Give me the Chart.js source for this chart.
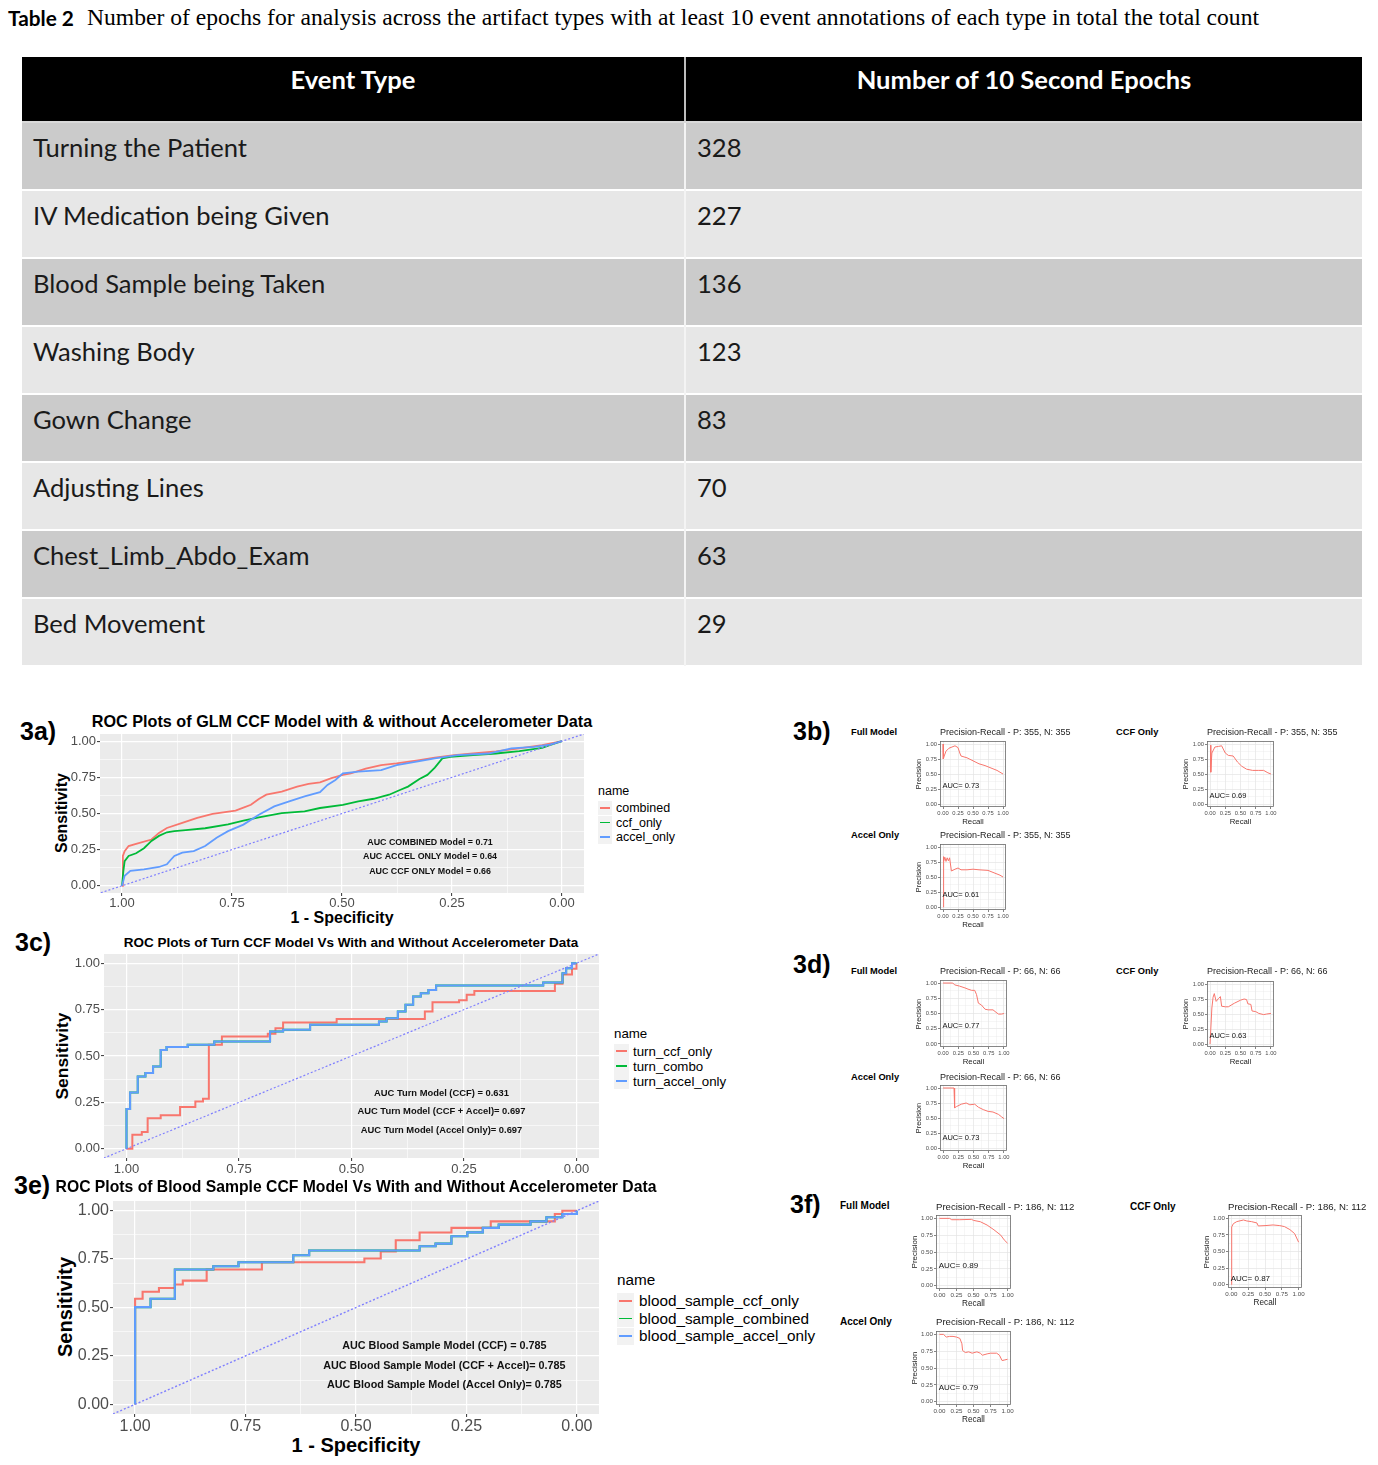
<!DOCTYPE html>
<html>
<head>
<meta charset="utf-8">
<title>Table 2 and ROC / Precision-Recall plots</title>
<script src="https://cdn.jsdelivr.net/npm/chart.js@4.4.1/dist/chart.umd.min.js"></script>
<style>
  html, body { margin: 0; padding: 0; background: #fff; }
  body { position: relative; width: 1378px; height: 1465px; overflow: hidden; font-family: 'Liberation Sans', Arial, sans-serif; color: #000; }
  .t { position: absolute; white-space: nowrap; line-height: 1; }
  .cell { position: absolute; box-sizing: border-box; }
  canvas { position: absolute; }
</style>
</head>
<body>
<script>
// ---- table 2 ----
const tableHeader = ['Event Type', 'Number of 10 Second Epochs'];
const eventTypes = ['Turning the Patient', 'IV Medication being Given', 'Blood Sample being Taken', 'Washing Body',
                    'Gown Change', 'Adjusting Lines', 'Chest_Limb_Abdo_Exam', 'Bed Movement'];
const epochCounts = [328, 227, 136, 123, 83, 70, 63, 29];

// ---- ticks used by every ggplot panel ----
const tickValues = [0, 0.25, 0.5, 0.75, 1];
const minorValues = [0.125, 0.375, 0.625, 0.875];

// ---- 3a : [specificity, sensitivity] ----
const roc3aNames = ['combined', 'ccf_only', 'accel_only'];
const roc3aCombined = [[1,0],[0.998,0.206],[0.994,0.24],[0.985,0.275],[0.968,0.29],[0.933,0.32],[0.916,0.366],[0.898,0.4],
  [0.863,0.435],[0.829,0.47],[0.794,0.497],[0.742,0.52],[0.724,0.54],[0.707,0.56],[0.689,0.6],[0.672,0.63],[0.637,0.652],
  [0.602,0.686],[0.576,0.705],[0.55,0.716],[0.524,0.744],[0.498,0.767],[0.48,0.778],[0.446,0.81],[0.411,0.835],[0.376,0.847],
  [0.324,0.87],[0.289,0.886],[0.245,0.904],[0.202,0.915],[0.15,0.93],[0.097,0.95],[0.045,0.973],[0,1]];
const roc3aCcf = [[1,0],[0.997,0.1],[0.994,0.17],[0.985,0.206],[0.968,0.225],[0.95,0.26],[0.933,0.31],[0.916,0.345],[0.898,0.37],
  [0.881,0.378],[0.855,0.385],[0.811,0.398],[0.759,0.425],[0.724,0.45],[0.689,0.474],[0.637,0.503],[0.585,0.515],[0.55,0.538],
  [0.498,0.56],[0.463,0.584],[0.428,0.602],[0.393,0.63],[0.367,0.664],[0.35,0.686],[0.324,0.739],[0.306,0.767],[0.289,0.817],
  [0.272,0.881],[0.254,0.892],[0.202,0.904],[0.15,0.915],[0.097,0.931],[0.045,0.954],[0.028,0.973],[0,1]];
const roc3aAccel = [[1,0],[0.994,0.069],[0.981,0.103],[0.95,0.114],[0.916,0.13],[0.898,0.149],[0.889,0.18],[0.881,0.206],
  [0.863,0.229],[0.837,0.24],[0.811,0.275],[0.785,0.332],[0.759,0.378],[0.724,0.423],[0.689,0.492],[0.654,0.549],[0.62,0.584],
  [0.585,0.618],[0.55,0.648],[0.533,0.698],[0.515,0.732],[0.498,0.778],[0.463,0.789],[0.411,0.8],[0.376,0.835],[0.324,0.863],
  [0.289,0.881],[0.237,0.904],[0.167,0.915],[0.115,0.95],[0.063,0.961],[0.028,0.977],[0,1]];
const roc3aAuc = ['AUC COMBINED Model = 0.71', 'AUC ACCEL ONLY Model = 0.64', 'AUC CCF ONLY Model = 0.66'];

// ---- 3c (step curves) ----
const roc3cNames = ['turn_ccf_only', 'turn_combo', 'turn_accel_only'];
const roc3cCcf = [[1,0],[0.987,0],[0.966,0.075],[0.953,0.09],[0.924,0.165],[0.881,0.18],[0.847,0.225],[0.83,0.255],[0.817,0.27],
  [0.788,0.56],[0.686,0.605],[0.669,0.62],[0.652,0.65],[0.533,0.68],[0.337,0.7],[0.32,0.74],[0.261,0.79],[0.244,0.8],[0.227,0.83],
  [0.048,0.85],[0.031,0.89],[0.01,0.94],[0,0.97],[0,1]];
const roc3cAccel = [[1,0],[0.992,0.214],[0.975,0.303],[0.958,0.39],[0.941,0.408],[0.924,0.443],[0.911,0.533],[0.864,0.548],
  [0.805,0.56],[0.681,0.578],[0.652,0.632],[0.592,0.641],[0.439,0.668],[0.422,0.686],[0.397,0.704],[0.38,0.74],[0.363,0.776],
  [0.346,0.821],[0.329,0.838],[0.312,0.856],[0.074,0.88],[0.031,0.896],[0.023,0.946],[0.01,0.973],[0,1]];
const roc3cCombo = roc3cAccel;   // hidden under the accel_only curve
const roc3cAuc = ['AUC Turn Model (CCF) = 0.631', 'AUC Turn Model (CCF + Accel)= 0.697', 'AUC Turn Model (Accel Only)= 0.697'];

// ---- 3e (step curves) ----
const roc3eNames = ['blood_sample_ccf_only', 'blood_sample_combined', 'blood_sample_accel_only'];
const roc3eCcf = [[1,0],[0.983,0.545],[0.946,0.581],[0.91,0.601],[0.892,0.619],[0.838,0.639],[0.713,0.696],[0.481,0.734],
  [0.444,0.753],[0.41,0.79],[0.356,0.847],[0.284,0.887],[0.195,0.911],[0.05,0.945],[0.033,0.983],[0,1]];
const roc3eAccel = [[1,0],[0.965,0.502],[0.91,0.545],[0.823,0.696],[0.766,0.713],[0.642,0.734],[0.606,0.77],[0.356,0.794],
  [0.32,0.816],[0.284,0.83],[0.248,0.868],[0.213,0.888],[0.177,0.911],[0.105,0.928],[0.069,0.945],[0.033,0.966],[0,0.983],[0,1]];
const roc3eCombined = roc3eAccel; // hidden under the accel_only curve
const roc3eAuc = ['AUC Blood Sample Model (CCF) = 0.785', 'AUC Blood Sample Model (CCF + Accel)= 0.785', 'AUC Blood Sample Model (Accel Only)= 0.785'];

// ---- precision-recall curves : [recall, precision] ----
const pr3bFull = [[0,1],[0.005,0.75],[0.02,0.8],[0.05,0.88],[0.1,0.93],[0.15,0.95],[0.2,0.97],[0.25,0.94],[0.28,0.85],[0.3,0.8],
  [0.4,0.77],[0.5,0.72],[0.6,0.67],[0.7,0.64],[0.8,0.6],[0.9,0.56],[1,0.5]];
const pr3bCcf = [[0.01,0.98],[0.012,0.53],[0.03,0.85],[0.08,0.95],[0.14,0.96],[0.19,0.97],[0.25,0.85],[0.3,0.81],[0.38,0.8],
  [0.45,0.7],[0.52,0.63],[0.6,0.58],[0.7,0.56],[0.8,0.56],[0.88,0.56],[0.95,0.52],[1,0.5]];
const pr3bAccel = [[0,0],[0.005,0.84],[0.015,0.76],[0.03,0.83],[0.05,0.76],[0.07,0.82],[0.09,0.77],[0.11,0.82],[0.14,0.6],
  [0.2,0.63],[0.25,0.65],[0.3,0.62],[0.4,0.62],[0.5,0.63],[0.6,0.62],[0.75,0.61],[0.85,0.57],[0.95,0.53],[1,0.5]];
const pr3dFull = [[0,1],[0.16,1],[0.19,0.97],[0.27,0.95],[0.36,0.92],[0.41,0.9],[0.47,0.88],[0.52,0.88],[0.55,0.81],[0.58,0.67],
  [0.63,0.64],[0.69,0.57],[0.74,0.56],[0.82,0.56],[0.87,0.52],[0.91,0.49],[0.96,0.49],[1,0.5]];
const pr3dCcf = [[0,0],[0.03,0.6],[0.05,0.78],[0.07,0.84],[0.1,0.71],[0.14,0.76],[0.17,0.79],[0.19,0.63],[0.25,0.62],[0.3,0.62],
  [0.4,0.68],[0.5,0.73],[0.56,0.75],[0.6,0.74],[0.62,0.67],[0.67,0.66],[0.69,0.55],[0.75,0.54],[0.8,0.51],[0.88,0.49],[0.93,0.5],[1,0.51]];
const pr3dAccel = [[0,1],[0.18,1],[0.19,0.67],[0.22,0.69],[0.3,0.73],[0.38,0.75],[0.44,0.72],[0.52,0.73],[0.58,0.68],[0.66,0.64],
  [0.74,0.61],[0.82,0.6],[0.91,0.56],[0.96,0.52],[1,0.49]];
const pr3fFull = [[0,1],[0.15,1],[0.18,0.98],[0.3,0.98],[0.47,0.985],[0.5,0.97],[0.6,0.95],[0.7,0.9],[0.8,0.83],[0.9,0.75],
  [0.95,0.68],[1,0.63]];
const pr3fCcf = [[0,0],[0.005,0.87],[0.03,0.92],[0.08,0.95],[0.18,0.975],[0.23,0.96],[0.3,0.95],[0.38,0.93],[0.4,0.885],[0.5,0.89],
  [0.62,0.9],[0.72,0.89],[0.79,0.875],[0.87,0.83],[0.94,0.77],[1,0.64]];
const pr3fAccel = [[0,1],[0.06,1],[0.1,0.96],[0.15,0.97],[0.2,0.97],[0.25,0.96],[0.3,0.94],[0.33,0.86],[0.34,0.76],[0.38,0.73],
  [0.43,0.74],[0.48,0.72],[0.55,0.74],[0.6,0.72],[0.63,0.69],[0.7,0.71],[0.75,0.72],[0.84,0.72],[0.88,0.69],[0.92,0.61],[0.96,0.62],[1,0.63]];

const ggRed = '#F8766D', ggGreen = '#00BA38', ggBlue = '#619CFF', chanceColor = '#7f7fff';
const chanceLine = [[1.1, -0.1], [-0.1, 1.1]];

Chart.defaults.font.family = "'Liberation Sans', Arial, sans-serif";

// ---------- helpers ----------
function txt(s, x, y, font, o = {}) {
  const d = document.createElement('div');
  d.className = 't';
  d.textContent = s;
  d.style.font = font;
  d.style.color = o.color || '#000';
  d.style.left = x + 'px';
  d.style.top = y + 'px';
  const tx = o.a === 'c' ? '-50%' : (o.a === 'r' ? '-100%' : '0');
  d.style.transform = `translate(${tx},-50%)` + (o.rot ? ` rotate(${o.rot}deg)` : '');
  document.body.appendChild(d);
  if (o.fit) {
    const w = d.getBoundingClientRect().width;
    d.style.fontSize = (parseFloat(d.style.fontSize) * o.fit / w) + 'px';
  }
  return d;
}

function rect(x, y, w, h, bg) {
  const d = document.createElement('div');
  d.className = 'cell';
  d.style.cssText += `left:${x}px;top:${y}px;width:${w}px;height:${h}px;background:${bg}`;
  document.body.appendChild(d);
  return d;
}

// grey panel / border box and text notes drawn in data coordinates
const panelPlugin = {
  id: 'panel',
  beforeDraw(chart, args, o) {
    const a = chart.chartArea, c = chart.ctx;
    if (o.fill) { c.save(); c.fillStyle = o.fill; c.fillRect(a.left, a.top, a.width, a.height); c.restore(); }
  },
  afterDraw(chart, args, o) {
    const a = chart.chartArea, c = chart.ctx;
    if (o.border) {
      c.save(); c.strokeStyle = o.border; c.lineWidth = 0.8;
      c.strokeRect(a.left + 0.5, a.top + 0.5, a.width - 1, a.height - 1); c.restore();
    }
    (o.notes || []).forEach(n => {
      c.save();
      c.font = n.font; c.fillStyle = '#111'; c.textAlign = n.align || 'center'; c.textBaseline = 'middle';
      c.fillText(n.text, chart.scales.x.getPixelForValue(n.x), chart.scales.y.getPixelForValue(n.y));
      c.restore();
    });
  }
};
Chart.register(panelPlugin);

const isMajor = v => tickValues.includes(v);

function ggAxis(o) {
  return {
    type: 'linear', min: -0.05, max: 1.05, reverse: !!o.reverse,
    afterBuildTicks: s => { s.ticks = tickValues.concat(minorValues).sort((a, b) => a - b).map(v => ({ value: v })); },
    afterFit: s => { if (o.w) s.width = o.w; if (o.h) s.height = o.h; },
    ticks: { autoSkip: false, maxRotation: 0, padding: o.pad, color: '#4d4d4d', font: { size: o.fs },
             callback: v => isMajor(v) ? v.toFixed(2) : '' },
    grid: {
      color: o.grid,
      lineWidth: c => (c.tick && isMajor(c.tick.value)) ? o.gw : o.gw / 2,
      drawTicks: true, tickLength: o.tl, tickWidth: o.tw || 1,
      tickColor: c => (c.tick && isMajor(c.tick.value)) ? '#333' : 'rgba(0,0,0,0)'
    },
    border: { display: false }
  };
}

function plotCanvas(b, yw, xh, pt, pr) {
  const cv = document.createElement('canvas');
  const W = b.r - b.l + yw + pr, H = b.b - b.t + pt + xh;
  cv.width = W; cv.height = H;
  cv.style.left = (b.l - yw) + 'px'; cv.style.top = (b.t - pt) + 'px';
  cv.style.width = W + 'px'; cv.style.height = H + 'px';
  document.body.appendChild(cv);
  return cv;
}

const toXY = arr => arr.map(p => ({ x: p[0], y: p[1] }));

function rocPlot(b, st, series, auc) {
  const yw = 46, xh = 26, pt = 12, pr = 12;
  const cv = plotCanvas(b, yw, xh, pt, pr);
  const datasets = series.map((s, i) => ({
    data: toXY(s.pts), borderColor: s.color, borderWidth: st.lw, pointRadius: 0,
    stepped: st.step ? 'after' : false, fill: false, order: series.length - i
  }));
  datasets.push({ data: toXY(chanceLine), borderColor: chanceColor, borderWidth: st.dw, borderDash: [2, 2],
                  pointRadius: 0, fill: false, order: 0 });
  new Chart(cv, {
    type: 'line',
    data: { datasets },
    options: {
      responsive: false, animation: false, events: [],
      layout: { padding: { top: pt, right: pr, left: 0, bottom: 0 } },
      plugins: {
        legend: { display: false }, tooltip: { enabled: false },
        panel: { fill: '#ebebeb',
                 notes: auc.map((s, i) => ({ text: s, x: 0.3, y: 0.3 - 0.1 * i, font: `bold ${st.note}px 'Liberation Sans'` })) }
      },
      scales: {
        x: ggAxis({ reverse: true, h: xh, fs: st.tick, grid: '#fff', gw: 1.2, tl: 3, pad: st.xpad }),
        y: ggAxis({ w: yw, fs: st.tick, grid: '#fff', gw: 1.2, tl: 3, pad: 1 })
      }
    }
  });
}

function legend(x, y0, dy, names, colors, fs, key, tx) {
  txt('name', x, y0 - dy * 1.2, `${fs}px 'Liberation Sans'`);
  names.forEach((n, i) => {
    const y = y0 + dy * i;
    rect(x, y - key / 2, key, key, '#f2f2f2');
    rect(x + 2, y - 0.8, key - 4, 1.6, colors[i]);
    txt(n, tx, y, `${fs}px 'Liberation Sans'`);
  });
}

function prPlot(c) {
  const yw = 20, xh = 12, pt = 6, pr = 6;
  const cv = plotCanvas(c.box, yw, xh, pt, pr);
  new Chart(cv, {
    type: 'line',
    data: { datasets: [{ data: toXY(c.pts), borderColor: ggRed, borderWidth: 1, pointRadius: 0, fill: false }] },
    options: {
      responsive: false, animation: false, events: [],
      layout: { padding: { top: pt, right: pr, left: 0, bottom: 0 } },
      plugins: {
        legend: { display: false }, tooltip: { enabled: false },
        panel: { border: '#6a6a6a',
                 notes: [{ text: c.auc, x: -0.01, y: c.aucY, align: 'left', font: `${c.big ? 8 : 7.5}px 'Liberation Sans'` }] }
      },
      scales: {
        x: ggAxis({ h: xh, fs: c.big ? 6.2 : 5.8, grid: '#e4e4e4', gw: 0.7, tl: 2, tw: 0.6, pad: 0.5 }),
        y: ggAxis({ w: yw, fs: c.big ? 6.2 : 5.8, grid: '#e4e4e4', gw: 0.7, tl: 2, tw: 0.6, pad: 1 })
      }
    }
  });
  const b = c.box;
  txt(c.title, b.l, c.ty, `${c.big ? 9.6 : 9}px 'Liberation Sans'`, { color: '#222' });
  txt('Precision', b.l - 22, (b.t + b.b) / 2, `${c.big ? 8 : 7.4}px 'Liberation Sans'`, { a: 'c', rot: -90, color: '#222' });
  txt('Recall', (b.l + b.r) / 2, b.b + 14, `${c.big ? 8.2 : 7.8}px 'Liberation Sans'`, { a: 'c', color: '#222' });
}

// ---------- caption + table ----------
txt('Table 2', 8, 17, "bold 19px Lato", { fit: 66 });
txt('Number of epochs for analysis across the artifact types with at least 10 event annotations of each type in total the total count',
    87, 17, "20px 'Liberation Serif'", { fit: 1173 });

rect(22, 57, 1340, 64, '#000');
rect(684, 57, 1.5, 64, '#bdbdbd');
rect(22, 121, 1340, 2, '#d9d9d9');
eventTypes.forEach((e, i) => {
  rect(22, 123 + 68 * i, 1340, 66, i % 2 ? '#e7e7e7' : '#cbcbcb');
});
rect(684, 123, 2, 543, '#f4f4f4');

const h2 = txt(tableHeader[1], 1024, 79, "bold 24px Lato", { a: 'c', color: '#fff', fit: 335 });
txt(tableHeader[0], 353, 79, `bold ${h2.style.fontSize} Lato`, { a: 'c', color: '#fff' });
const r0 = txt(eventTypes[0], 33, 147, "24px Lato", { color: '#1a1a1a', fit: 214 });
eventTypes.forEach((e, i) => {
  const y = 147 + 68 * i;
  if (i > 0) txt(e, 33, y, `${r0.style.fontSize} Lato`, { color: '#1a1a1a' });
  txt(String(epochCounts[i]), 697, y, `${r0.style.fontSize} Lato`, { color: '#1a1a1a' });
});

// ---------- 3a ----------
txt('3a)', 20, 731, "bold 25px 'Liberation Sans'");
txt('ROC Plots of GLM CCF Model with & without Accelerometer Data', 342, 721, "bold 15px 'Liberation Sans'", { a: 'c', fit: 501 });
txt('Sensitivity', 62, 813, "bold 16px 'Liberation Sans'", { a: 'c', rot: -90 });
txt('1 - Specificity', 342, 918, "bold 16px 'Liberation Sans'", { a: 'c' });
rocPlot({ l: 100, r: 584, t: 734, b: 893 }, { lw: 1.8, dw: 1.2, tick: 13, note: 8.9, xpad: 0, step: false },
  [{ pts: roc3aCombined, color: ggRed }, { pts: roc3aCcf, color: ggGreen }, { pts: roc3aAccel, color: ggBlue }], roc3aAuc);
legend(598, 808, 14.5, roc3aNames, [ggRed, ggGreen, ggBlue], 12.5, 14, 616);

// ---------- 3c ----------
txt('3c)', 15, 942, "bold 25px 'Liberation Sans'");
txt('ROC Plots of Turn CCF Model Vs With and Without Accelerometer Data', 351, 942, "bold 14px 'Liberation Sans'", { a: 'c', fit: 455 });
txt('Sensitivity', 62, 1056, "bold 17.4px 'Liberation Sans'", { a: 'c', rot: -90 });
rocPlot({ l: 104, r: 599, t: 954, b: 1158 }, { lw: 2, dw: 1.2, tick: 13, note: 9.4, xpad: 1, step: true },
  [{ pts: roc3cCcf, color: ggRed }, { pts: roc3cCombo, color: ggGreen }, { pts: roc3cAccel, color: ggBlue }], roc3cAuc);
legend(614, 1051, 15, roc3cNames, [ggRed, ggGreen, ggBlue], 13.3, 15, 633);

// ---------- 3e ----------
txt('3e)', 14, 1185, "bold 25px 'Liberation Sans'");
txt('ROC Plots of Blood Sample CCF Model Vs With and Without Accelerometer Data', 356, 1187, "bold 15px 'Liberation Sans'", { a: 'c', fit: 601 });
txt('Sensitivity', 65, 1307, "bold 20px 'Liberation Sans'", { a: 'c', rot: -90 });
txt('1 - Specificity', 356, 1445, "bold 20px 'Liberation Sans'", { a: 'c' });
rocPlot({ l: 113, r: 599, t: 1201, b: 1414 }, { lw: 2.1, dw: 1.4, tick: 16, note: 10.8, xpad: 0, step: true },
  [{ pts: roc3eCcf, color: ggRed }, { pts: roc3eCombined, color: ggGreen }, { pts: roc3eAccel, color: ggBlue }], roc3eAuc);
legend(617, 1301, 17.5, roc3eNames, [ggRed, ggGreen, ggBlue], 15.3, 17, 639);

// ---------- precision-recall panels ----------
txt('3b)', 793, 731, "bold 25px 'Liberation Sans'");
txt('3d)', 793, 964, "bold 25px 'Liberation Sans'");
txt('3f)', 790, 1204, "bold 25px 'Liberation Sans'");
txt('Full Model', 851, 732, "bold 9.3px 'Liberation Sans'");
txt('CCF Only', 1116, 732, "bold 9.3px 'Liberation Sans'");
txt('Accel Only', 851, 835, "bold 9.3px 'Liberation Sans'");
txt('Full Model', 851, 971, "bold 9.3px 'Liberation Sans'");
txt('CCF Only', 1116, 971, "bold 9.3px 'Liberation Sans'");
txt('Accel Only', 851, 1077, "bold 9.3px 'Liberation Sans'");
txt('Full Model', 840, 1205, "bold 10px 'Liberation Sans'");
txt('CCF Only', 1130, 1206, "bold 10px 'Liberation Sans'");
txt('Accel Only', 840, 1321, "bold 10px 'Liberation Sans'");

const t3b = 'Precision-Recall - P: 355, N: 355', t3d = 'Precision-Recall - P: 66, N: 66', t3f = 'Precision-Recall - P: 186, N: 112';
[
  { box: { l: 940, r: 1006, t: 741, b: 807 }, title: t3b, ty: 732, pts: pr3bFull, auc: 'AUC= 0.73', aucY: 0.3 },
  { box: { l: 1207, r: 1274, t: 741, b: 807 }, title: t3b, ty: 732, pts: pr3bCcf, auc: 'AUC= 0.69', aucY: 0.14 },
  { box: { l: 940, r: 1006, t: 844, b: 910 }, title: t3b, ty: 835, pts: pr3bAccel, auc: 'AUC= 0.61', aucY: 0.2 },
  { box: { l: 940, r: 1007, t: 980, b: 1047 }, title: t3d, ty: 971, pts: pr3dFull, auc: 'AUC= 0.77', aucY: 0.29 },
  { box: { l: 1207, r: 1274, t: 981, b: 1047 }, title: t3d, ty: 971, pts: pr3dCcf, auc: 'AUC= 0.63', aucY: 0.13 },
  { box: { l: 940, r: 1007, t: 1085, b: 1151 }, title: t3d, ty: 1077, pts: pr3dAccel, auc: 'AUC= 0.73', aucY: 0.17 },
  { box: { l: 936, r: 1011, t: 1215, b: 1289 }, title: t3f, ty: 1206, pts: pr3fFull, auc: 'AUC= 0.89', aucY: 0.3, big: true },
  { box: { l: 1228, r: 1302, t: 1215, b: 1288 }, title: t3f, ty: 1206, pts: pr3fCcf, auc: 'AUC= 0.87', aucY: 0.085, big: true },
  { box: { l: 936, r: 1011, t: 1331, b: 1405 }, title: t3f, ty: 1321, pts: pr3fAccel, auc: 'AUC= 0.79', aucY: 0.2, big: true }
].forEach(prPlot);
</script>
</body>
</html>
